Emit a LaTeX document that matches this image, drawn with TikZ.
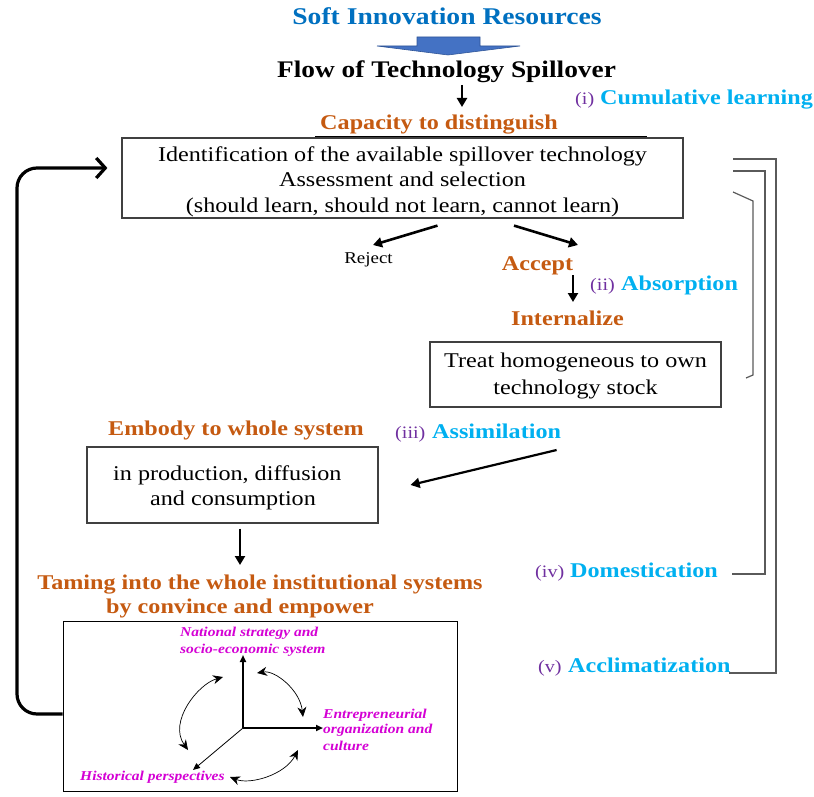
\documentclass[tikz,border=0pt]{standalone}
\usepackage{fontspec}
\setmainfont{Liberation Serif}
\usepackage{graphicx}
\usetikzlibrary{arrows.meta}

\definecolor{titleblue}{HTML}{0070C0}
\definecolor{headorange}{HTML}{C55A11}
\definecolor{stageblue}{HTML}{00B0F0}
\definecolor{numpurple}{HTML}{7030A0}
\definecolor{axismagenta}{HTML}{D400D4}
\definecolor{boxgray}{HTML}{404040}
\definecolor{brackgray}{HTML}{5A5A5A}
\definecolor{arrowfill}{HTML}{4472C4}
\definecolor{arrowedge}{HTML}{2F5597}

% text is set slightly wide
\newcommand{\wide}[1]{\scalebox{1.15}[1]{#1}}

\begin{document}
\begin{tikzpicture}[x=1pt,y=-1pt,
  lbl/.style={inner sep=0pt, anchor=base},
  lblw/.style={inner sep=0pt, anchor=base west},
  body/.style={lbl, font=\fontsize{21}{25}\selectfont},
  bodyw/.style={lblw, font=\fontsize{21}{25}\selectfont},
  head/.style={lbl, font=\fontsize{21}{25}\selectfont\bfseries, text=headorange},
  stage/.style={lblw, font=\fontsize{21}{25}\selectfont\bfseries, text=stageblue},
  num/.style={lblw, font=\fontsize{17.5}{20}\selectfont, text=numpurple},
  axislbl/.style={lblw, font=\fontsize{13.5}{16}\selectfont\bfseries\itshape, text=axismagenta},
  frame/.style={draw=boxgray, line width=1.2pt, inner sep=0pt},
  flowarrow/.style={line width=2.4pt, -{Triangle[length=9pt,width=10pt]}},
  bracket/.style={draw=brackgray, line width=1.5pt},
  axis/.style={line width=2pt, -{Triangle[length=7pt,width=6pt]}},
  thinaxis/.style={line width=0.8pt, -{Triangle[length=7pt,width=6pt]}},
  twoway/.style={line width=0.7pt, {Stealth[length=10pt,width=9pt]}-{Stealth[length=10pt,width=9pt]}},
  loopback/.style={line width=3.2pt, rounded corners=20pt, -{Straight Barb[length=9pt,width=20pt]}}
]
\useasboundingbox (0,0) rectangle (814,797);

% heading and block arrow
\node[lbl, font=\fontsize{24}{28}\selectfont\bfseries, text=titleblue] (title) at (447,25) {\wide{Soft Innovation Resources}};
\draw[fill=arrowfill, draw=arrowedge, line width=0.6pt]
  (417,37) -- (480,37) -- (480,46) -- (520,46) -- (448,55) -- (377,46) -- (417,46) -- cycle;
\node[lbl, font=\fontsize{23.8}{28}\selectfont\bfseries] (flow) at (446.5,78) {\wide{Flow of Technology Spillover}};
\node[head] (capacity) at (439,130) {\wide{Capacity to distinguish}};
\draw[flowarrow] ([shift={(15.5pt,-7pt)}]flow.base) -- ([shift={(23pt,23pt)}]capacity.base);
\draw[line width=1.4pt] (315,136.5) -- (647,136.5);

% identification box
\node[frame, minimum width=561pt, minimum height=80pt] (idbox) at (402.5,178) {};
\node[body] (id1) at (402.5,161) {\wide{Identification of the available spillover technology}};
\node[body] (id2) at (402.5,186.5) {\wide{Assessment and selection}};
\node[body] (id3) at (402.5,212) {\wide{(should learn, should not learn, cannot learn)}};

% reject / accept
\node[lbl, font=\fontsize{16.5}{20}\selectfont] (reject) at (368.5,263) {\wide{Reject}};
\node[head] (accept) at (537.5,270) {\wide{Accept}};
\draw[flowarrow, line width=2.6pt] ([shift={(35pt,-7pt)}]idbox.south) -- ([shift={(4.5pt,18pt)}]reject.base);
\draw[flowarrow, line width=2.6pt] ([shift={(111.5pt,-7pt)}]idbox.south) -- ([shift={(40.5pt,25pt)}]accept.base);
\node[head] (internalize) at (567.5,325) {\wide{Internalize}};
\draw[flowarrow] ([shift={(35.5pt,-5pt)}]accept.base) -- ([shift={(5.5pt,23pt)}]internalize.base);

% treat box
\node[frame, minimum width=291pt, minimum height=65pt] (treatbox) at (575.5,374.5) {};
\node[body] (treat1) at (575.5,367) {\wide{Treat homogeneous to own}};
\node[body] (treat2) at (575.5,394) {\wide{technology stock}};

% embodiment
\node[head] (embody) at (236,435) {\wide{Embody to whole system}};
\node[frame, minimum width=291pt, minimum height=76pt] (prodbox) at (232.5,485) {};
\node[bodyw] (prod1) at (113,480) {\wide{in production, diffusion}};
\node[bodyw] (prod2) at (150,505) {\wide{and consumption}};

% taming
\node[head] (taming1) at (260,589) {\wide{Taming into the whole institutional systems}};
\node[head] (taming2) at (240,613) {\wide{by convince and empower}};
\draw[flowarrow, line width=2.2pt] ([shift={(7.5pt,-5pt)}]prodbox.south) -- ([shift={(-20pt,24pt)}]taming1.base);

% stage labels
\node[num] (num1) at (575,105) {\wide{(i)}};
\node[stage] (stage1) at (600,105) {\wide{Cumulative learning}};
\node[num] (num2) at (590,290) {\wide{(ii)}};
\node[stage] (stage2) at (621,290) {\wide{Absorption}};
\node[num] (num3) at (395,438) {\wide{(iii)}};
\node[stage] (stage3) at (432,438) {\wide{Assimilation}};
\node[num] (num4) at (535,577) {\wide{(iv)}};
\node[stage] (stage4) at (570,577) {\wide{Domestication}};
\node[num] (num5) at (538,672) {\wide{(v)}};
\node[stage] (stage5) at (568,672) {\wide{Acclimatization}};

\draw[flowarrow, line width=2.2pt] ([shift={(60pt,-12pt)}]stage3.base) -- ([xshift=32pt]prodbox.east);

% brackets on the right
\draw[bracket] (733,159) -- (776,159) -- (776,673) -- (729,673);
\draw[bracket] (733,171) -- (765,171) -- (765,574) -- (732,574);
\draw[bracket, line width=1.2pt] (733,192) -- (753,201) -- (753,375) -- (746,378);

% institutional systems box
\node[draw=black, line width=1pt, inner sep=0pt, minimum width=394pt, minimum height=170pt] (tambox) at (260,706) {};
\coordinate (origin) at (243,728);
\coordinate (axN) at (243,655);
\coordinate (axE) at (323,728);
\coordinate (axH) at (193,770);
\draw[axis] (origin) -- (axN);
\draw[axis] (origin) -- (axE);
\draw[thinaxis] (origin) -- (axH);

\node[axislbl] (nat1) at (180,636) {\wide{National strategy and}};
\node[axislbl] (nat2) at (180,653) {\wide{socio-economic system}};
\node[axislbl] (ent1) at (323,718) {\wide{Entrepreneurial}};
\node[axislbl] (ent2) at (323,733) {\wide{organization and}};
\node[axislbl] (ent3) at (323,750) {\wide{culture}};
\node[axislbl] (hist) at (80,780) {\wide{Historical perspectives}};

\draw[twoway] (223,677) .. controls (198,684) and (168,722) .. (188,750);
\draw[twoway] (257,673) .. controls (275,670) and (300,690) .. (303,717);
\draw[twoway] (230,777) .. controls (250,785) and (285,775) .. (298,750);

% feedback loop
\draw[loopback] ([yshift=-8pt]tambox.west) -- (17,714) -- (17,168) -- ([shift={(-14pt,10pt)}]idbox.west);

\end{tikzpicture}
\end{document}
